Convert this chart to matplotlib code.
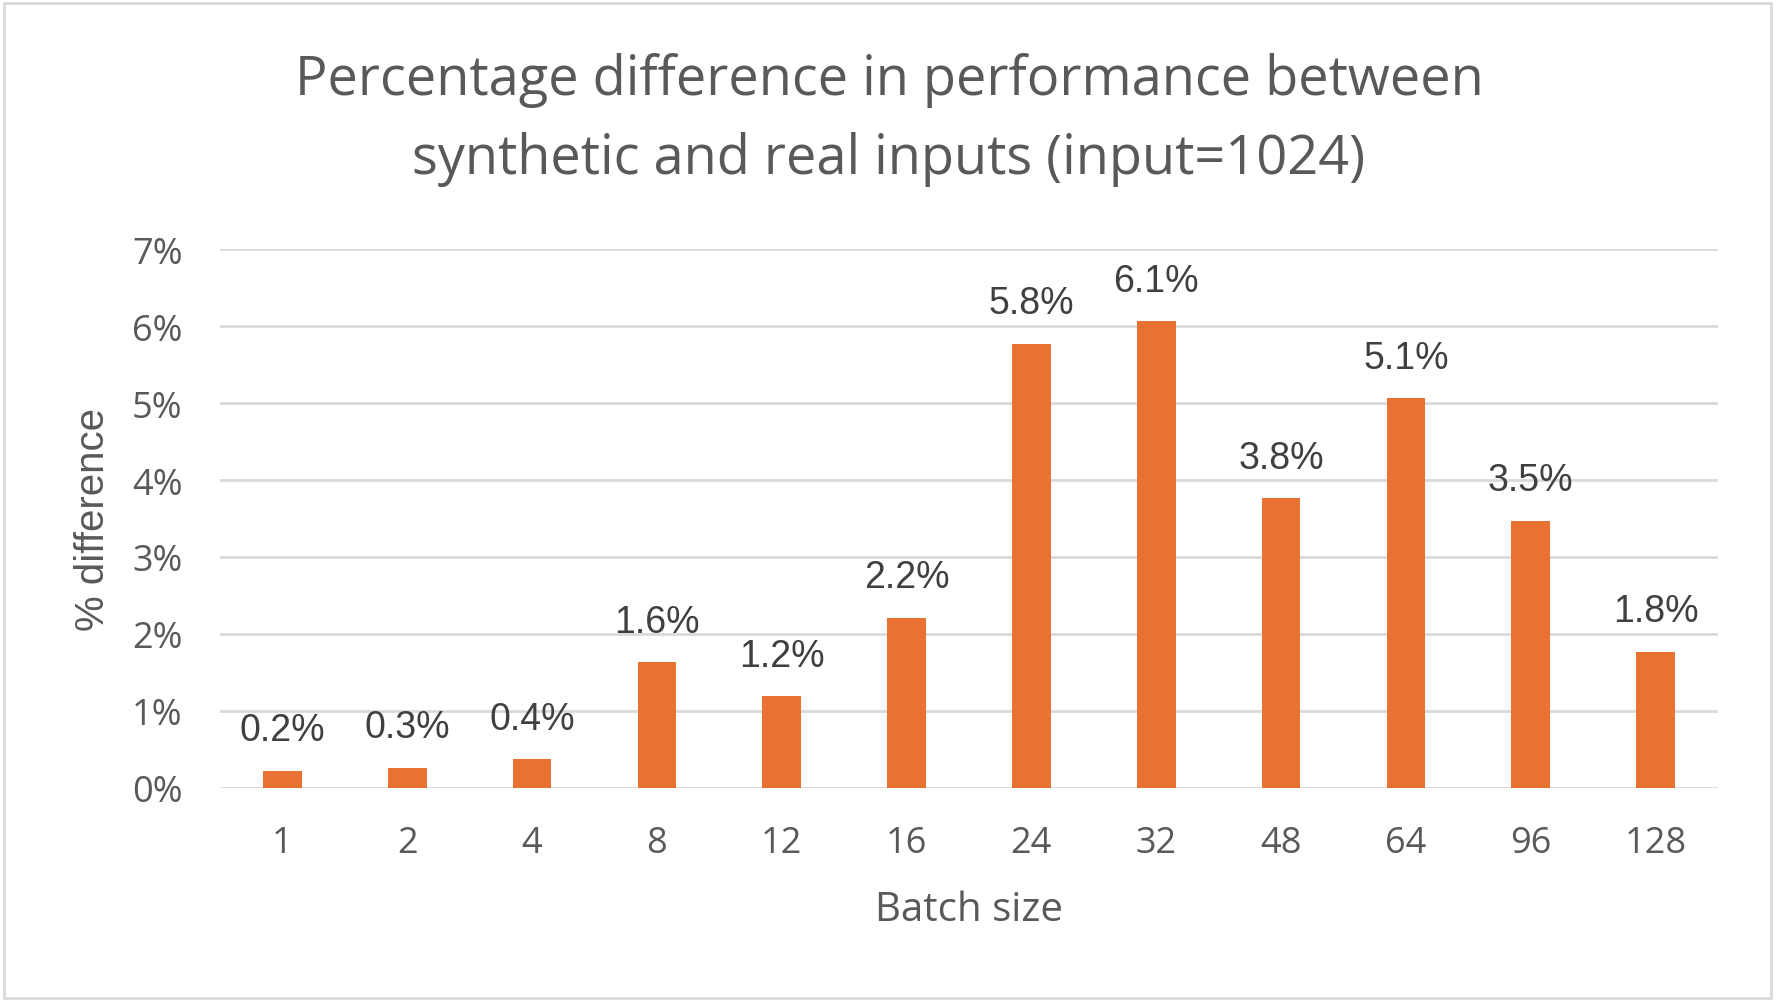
import matplotlib.pyplot as plt
from matplotlib.patches import Rectangle

# batch sizes and % difference (synthetic vs real inputs)
batch_sizes = ["1", "2", "4", "8", "12", "16", "24", "32", "48", "64", "96", "128"]
pct_diff = [0.22, 0.26, 0.37, 1.63, 1.19, 2.21, 5.77, 6.06, 3.76, 5.06, 3.47, 1.77]
y_ticks = [0, 1, 2, 3, 4, 5, 6, 7]

BAR = "#E97132"
TXT = "#595959"
GRID = "#D9D9D9"

fig = plt.figure(figsize=(17.78, 10.03), dpi=100)
ax = fig.add_axes([0.1237, 0.2134, 0.8426, 0.5373])

x = list(range(len(batch_sizes)))
bars = ax.bar(x, pct_diff, width=0.31, color=BAR, zorder=3)

for xi, v in zip(x, pct_diff):
    ax.annotate(f"{v:.1f}%", (xi, v), xytext=(0, 22), textcoords="offset points",
                ha="center", va="baseline", fontsize=27,
                family="Liberation Sans", color="#404040")

ax.set_xlim(-0.5, len(batch_sizes) - 0.5)
ax.set_ylim(0, 7)
ax.set_yticks(y_ticks)
ax.set_yticklabels([f"{t}%" for t in y_ticks])
ax.set_xticks(x)
ax.set_xticklabels(batch_sizes)
ax.yaxis.grid(True, color=GRID, linewidth=2, zorder=0)
ax.tick_params(length=0, labelsize=26, labelcolor=TXT)
ax.tick_params(axis="x", pad=27)
ax.tick_params(axis="y", pad=27)
for lab in ax.get_xticklabels() + ax.get_yticklabels():
    lab.set_family("Open Sans")
for s in ax.spines.values():
    s.set_visible(False)

ax.set_xlabel("Batch size", fontsize=29, color=TXT, family="Open Sans", labelpad=20)
ax.set_ylabel("% difference", fontsize=29, color=TXT, family="Liberation Sans",
              labelpad=14)

fig.text(0.5, 1 - 120 / 1003,
         "Percentage difference in performance between\nsynthetic and real inputs (input=1024)",
         ha="center", va="center", fontsize=39, color=TXT, family="Open Sans",
         linespacing=1.59)

# light chart border
fig.patches.append(Rectangle((0.002, 0.004), 0.994, 0.992, transform=fig.transFigure,
                             fill=False, edgecolor=GRID, linewidth=2))

fig.savefig("out.png", dpi=100)
